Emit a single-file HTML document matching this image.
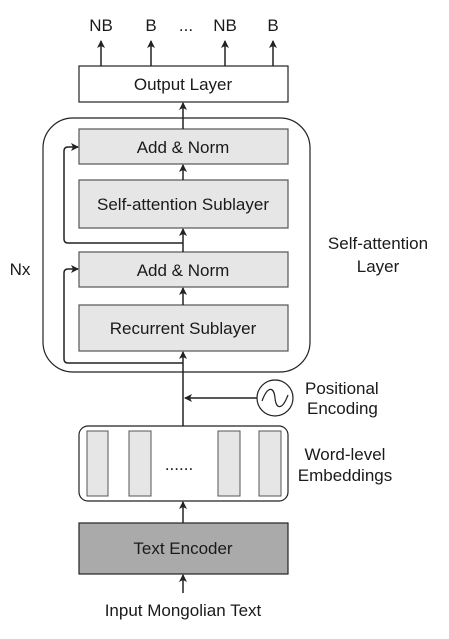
<!DOCTYPE html>
<html><head><style>
html,body{margin:0;padding:0;background:#fff;}
svg{display:block;}
text{font-family:"Liberation Sans",sans-serif;font-size:17px;fill:#1a1a1a;}
</style></head><body>
<svg width="449" height="639" viewBox="0 0 449 639" xmlns="http://www.w3.org/2000/svg">
<defs>
<marker id="a" markerWidth="8" markerHeight="8" refX="7" refY="4" orient="auto" markerUnits="userSpaceOnUse">
<path d="M0,0 L8,4 L0,8 L2,4 z" fill="#222"/>
</marker>
</defs>
<g stroke="#222" stroke-width="1.5" fill="none">
<line x1="101" y1="66" x2="101" y2="41" marker-end="url(#a)"/>
<line x1="151" y1="66" x2="151" y2="41" marker-end="url(#a)"/>
<line x1="225" y1="66" x2="225" y2="41" marker-end="url(#a)"/>
<line x1="273" y1="66" x2="273" y2="41" marker-end="url(#a)"/>
<rect x="79" y="66" width="209" height="36" fill="#fff" stroke-width="1.2"/>
<rect x="43" y="118" width="267" height="254" rx="30" stroke-width="1.2"/>
<rect x="79" y="129" width="209" height="35" fill="#e6e6e6" stroke="#555" stroke-width="1.2"/>
<rect x="79" y="180" width="209" height="48" fill="#e6e6e6" stroke="#555" stroke-width="1.2"/>
<rect x="79" y="252" width="209" height="35" fill="#e6e6e6" stroke="#555" stroke-width="1.2"/>
<rect x="79" y="305" width="209" height="46" fill="#e6e6e6" stroke="#555" stroke-width="1.2"/>
<line x1="183" y1="426" x2="183" y2="352" marker-end="url(#a)"/>
<line x1="183" y1="305" x2="183" y2="288" marker-end="url(#a)"/>
<line x1="183" y1="252" x2="183" y2="229" marker-end="url(#a)"/>
<line x1="183" y1="180" x2="183" y2="165" marker-end="url(#a)"/>
<line x1="183" y1="129" x2="183" y2="103" marker-end="url(#a)"/>
<path d="M183,243 H68 Q64,243 64,239 V151 Q64,147 68,147 H78" marker-end="url(#a)"/>
<path d="M183,363 H68 Q64,363 64,359 V273 Q64,269 68,269 H78" marker-end="url(#a)"/>
<circle cx="275" cy="398" r="18" stroke-width="1.2"/>
<path d="M262,401 C268,385 274,387 275,398 C276,409 282,411 288,395" stroke-width="1.2"/>
<line x1="257" y1="398" x2="185" y2="398" marker-end="url(#a)"/>
<rect x="79" y="426" width="209" height="75" rx="9" stroke-width="1.2"/>
<rect x="87" y="431" width="21" height="65" fill="#e6e6e6" stroke="#555" stroke-width="1"/>
<rect x="129" y="431" width="22" height="65" fill="#e6e6e6" stroke="#555" stroke-width="1"/>
<rect x="218" y="431" width="22" height="65" fill="#e6e6e6" stroke="#555" stroke-width="1"/>
<rect x="259" y="431" width="22" height="65" fill="#e6e6e6" stroke="#555" stroke-width="1"/>
<line x1="183" y1="523" x2="183" y2="502" marker-end="url(#a)"/>
<rect x="79" y="523" width="209" height="51" fill="#aaaaaa" stroke-width="1.2"/>
<line x1="183" y1="593" x2="183" y2="575" marker-end="url(#a)"/>
</g>
<text x="101" y="31" text-anchor="middle">NB</text>
<text x="151" y="31" text-anchor="middle">B</text>
<text x="186" y="31" text-anchor="middle">...</text>
<text x="225" y="31" text-anchor="middle">NB</text>
<text x="273" y="31" text-anchor="middle">B</text>
<text x="183" y="90" text-anchor="middle">Output Layer</text>
<text x="183" y="153" text-anchor="middle">Add &amp; Norm</text>
<text x="183" y="210" text-anchor="middle">Self-attention Sublayer</text>
<text x="183" y="276" text-anchor="middle">Add &amp; Norm</text>
<text x="183" y="334" text-anchor="middle">Recurrent Sublayer</text>
<text x="20" y="275" text-anchor="middle">Nx</text>
<text x="378" y="249" text-anchor="middle">Self-attention</text>
<text x="378" y="272" text-anchor="middle">Layer</text>
<text x="305" y="394">Positional</text>
<text x="307" y="414">Encoding</text>
<text x="345" y="460" text-anchor="middle">Word-level</text>
<text x="345" y="481" text-anchor="middle">Embeddings</text>
<text x="179" y="470" text-anchor="middle">......</text>
<text x="183" y="554" text-anchor="middle">Text Encoder</text>
<text x="183" y="616" text-anchor="middle">Input Mongolian Text</text>
</svg>
</body></html>
